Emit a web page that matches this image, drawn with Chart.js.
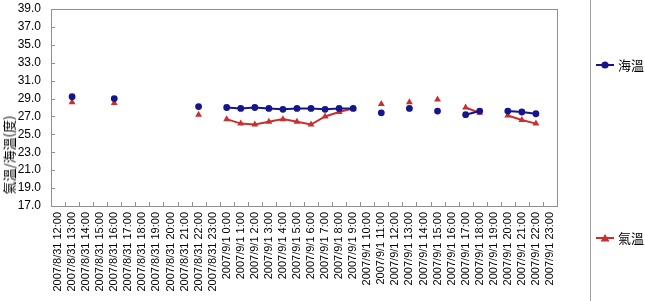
<!DOCTYPE html>
<html><head><meta charset="utf-8">
<script src="https://cdn.jsdelivr.net/npm/chart.js@4"></script>
<style>
html,body{margin:0;padding:0;background:#fff;}
#wrap{position:relative;width:645px;height:301px;overflow:hidden;background:#fff;}
canvas{position:absolute;left:0;top:0;}
.lg{position:absolute;left:596px;font:13px "Noto Sans CJK TC",sans-serif;color:#000;display:flex;align-items:center;white-space:nowrap;line-height:16px;}
.lg svg{margin-right:4px;}
#ytitle{position:absolute;left:9px;top:155px;transform:translate(-50%,-50%) rotate(-90deg);font:13px "Noto Sans CJK TC",sans-serif;color:#000;white-space:nowrap;line-height:16px;}
#vline{position:absolute;left:590px;top:0;width:1px;height:301px;background:#a0a0a0;}
</style></head><body>
<div id="wrap">
<canvas id="c" width="645" height="301"></canvas>
<div id="ytitle">氣溫/海溫(度)</div>
<div id="vline"></div>
<div class="lg" id="lg0" style="top:57px"></div>
<div class="lg" id="lg1" style="top:230px"></div>
</div>
<script>
const categories = [
 "2007/8/31 12:00","2007/8/31 13:00","2007/8/31 14:00","2007/8/31 15:00","2007/8/31 16:00","2007/8/31 17:00",
 "2007/8/31 18:00","2007/8/31 19:00","2007/8/31 20:00","2007/8/31 21:00","2007/8/31 22:00","2007/8/31 23:00",
 "2007/9/1 0:00","2007/9/1 1:00","2007/9/1 2:00","2007/9/1 3:00","2007/9/1 4:00","2007/9/1 5:00",
 "2007/9/1 6:00","2007/9/1 7:00","2007/9/1 8:00","2007/9/1 9:00","2007/9/1 10:00","2007/9/1 11:00",
 "2007/9/1 12:00","2007/9/1 13:00","2007/9/1 14:00","2007/9/1 15:00","2007/9/1 16:00","2007/9/1 17:00",
 "2007/9/1 18:00","2007/9/1 19:00","2007/9/1 20:00","2007/9/1 21:00","2007/9/1 22:00","2007/9/1 23:00"
];
const seaTemp = [
 null,29.2,null,null,29.0,null,
 null,null,null,null,28.1,null,
 28.0,27.9,28.0,27.9,27.8,27.9,
 27.9,27.8,27.9,27.9,null,27.4,
 null,27.9,null,27.6,null,27.2,
 27.6,null,27.6,27.5,27.3,null
];
const airTemp = [
 null,28.6,null,null,28.5,null,
 null,null,null,null,27.2,null,
 26.7,26.2,26.1,26.4,26.7,26.4,
 26.1,27.0,27.5,27.9,null,28.4,
 null,28.6,null,28.9,null,28.0,
 27.4,null,27.1,26.6,26.2,null
];
const seriesNames = ["海溫","氣溫"];
const yTicks = {min:17, max:39, step:2};

const BLUE = "#16168c", RED = "#c83030", AXIS = "#909090";

function legendSvg(color, style){
  let m = style === "triangle"
    ? `<polygon points="9,1 13.5,8.5 4.5,8.5" fill="${color}"/>`
    : `<circle cx="9" cy="5" r="3.6" fill="${color}"/>`;
  return `<svg width="18" height="10"><line x1="0" y1="5" x2="18" y2="5" stroke="${color}" stroke-width="2"/>${m}</svg>`;
}
document.getElementById("lg0").innerHTML = legendSvg(BLUE,"circle") + "<span>"+seriesNames[0]+"</span>";
document.getElementById("lg1").innerHTML = legendSvg(RED,"triangle") + "<span>"+seriesNames[1]+"</span>";

const framePlugin = {
  id: "frame",
  afterDraw(chart){
    const ctx = chart.ctx, a = chart.chartArea;
    const xs = chart.scales.x, ys = chart.scales.y;
    ctx.save();
    ctx.strokeStyle = AXIS; ctx.lineWidth = 1;
    ctx.strokeRect(Math.round(a.left)+0.5, Math.round(a.top)+0.5, Math.round(a.right-a.left), Math.round(a.bottom-a.top));
    ctx.beginPath();
    ys.ticks.forEach(t => {
      const y = Math.round(ys.getPixelForValue(t.value)) + 0.5;
      ctx.moveTo(a.left, y); ctx.lineTo(a.left + 4, y);
    });
    for (let i = 0; i <= categories.length; i++) {
      const x = Math.round(xs.getPixelForValue(i - 0.5)) + 0.5;
      ctx.moveTo(x, a.bottom); ctx.lineTo(x, a.bottom - 4);
    }
    ctx.stroke();
    ctx.restore();
  }
};

new Chart(document.getElementById("c"), {
  type: "line",
  data: {
    labels: categories,
    datasets: [
      {label: seriesNames[0], data: seaTemp, borderColor: BLUE, backgroundColor: BLUE,
       pointStyle: "circle", pointRadius: 3.4, pointBorderWidth: 0, borderWidth: 2, spanGaps: false, tension: 0},
      {label: seriesNames[1], data: airTemp, borderColor: RED, backgroundColor: RED,
       pointStyle: "triangle", pointRadius: 4, pointBorderWidth: 0, borderWidth: 2, spanGaps: false, tension: 0}
    ]
  },
  options: {
    responsive: false,
    animation: false,
    devicePixelRatio: 1,
    layout: {padding: {left: 0, right: 88, top: 9, bottom: 0}},
    plugins: {legend: {display: false}, tooltip: {enabled: false}, title: {display: false}},
    scales: {
      x: {
        type: "category",
        offset: true,
        grid: {display: false, drawTicks: false, offset: true},
        border: {display: false},
        ticks: {autoSkip: false, maxRotation: 90, minRotation: 90, padding: 6, color: "#000",
                font: {family: "'Liberation Sans', Arial, sans-serif", size: 11}},
        afterFit(s){ s.height = 95; s.paddingLeft = 0; s.paddingRight = 0; }
      },
      y: {
        min: yTicks.min, max: yTicks.max,
        grid: {display: false, drawTicks: false},
        border: {display: false},
        ticks: {stepSize: yTicks.step, autoSkip: false, padding: 10, color: "#000",
                font: {family: "'Liberation Sans', Arial, sans-serif", size: 12},
                callback: v => Number(v).toFixed(1)},
        afterFit(s){ s.width = 51; s.paddingTop = 0; s.paddingBottom = 0; }
      }
    }
  },
  plugins: [framePlugin]
});
</script>
</body></html>
